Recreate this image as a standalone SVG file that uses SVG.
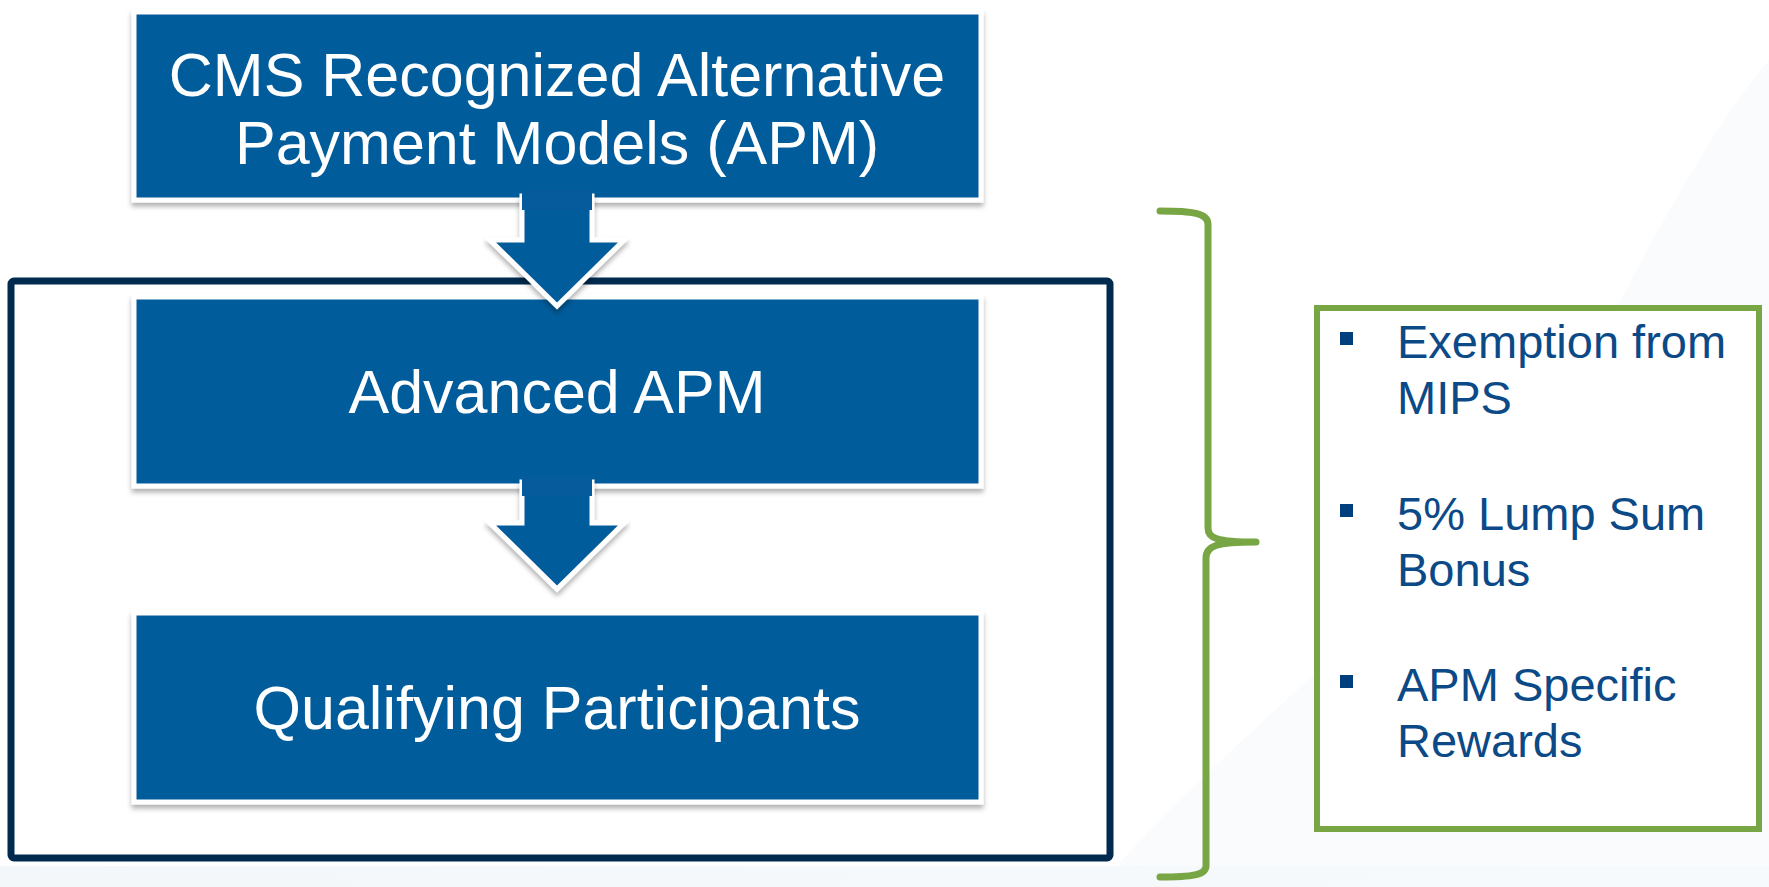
<svg xmlns="http://www.w3.org/2000/svg" width="1769" height="887" viewBox="0 0 1769 887">
<style>
.box{fill:#055b9b;stroke:#ffffff;stroke-width:5;filter:url(#sh)}
.arrow{fill:#055b9b;stroke:#ffffff;stroke-width:5;stroke-linejoin:miter;filter:url(#sh)}
.btxt{font-family:"Liberation Sans",Arial,sans-serif;font-size:61px;fill:#ffffff;text-anchor:middle}
.ltxt{font-family:"Liberation Sans",Arial,sans-serif;font-size:47px;fill:#0b4a87}
.bul{fill:#003f7e}
</style>
<defs>
<filter id="sh" x="-5%" y="-5%" width="110%" height="115%">
<feDropShadow dx="0" dy="4" stdDeviation="2.5" flood-color="#000000" flood-opacity="0.3"/>
</filter>
<linearGradient id="bg" x1="0" y1="0" x2="1" y2="0">
<stop offset="0" stop-color="#f4f7fa"/>
<stop offset="1" stop-color="#f7fafc"/>
</linearGradient>
</defs>
<rect x="0" y="0" width="1769" height="887" fill="#ffffff"/>
<path d="M1769,60 C1700,140 1620,300 1560,420 C1420,600 1200,760 1100,887 L1769,887 Z" fill="#f9fbfd"/>
<rect x="0" y="866" width="1769" height="21" fill="url(#bg)"/>

<g id="frame">
<rect x="11" y="281" width="1099" height="577" rx="3" fill="none" stroke="#002b4e" stroke-width="7"/>
</g>

<g id="node-cms">
<rect class="box" x="134" y="12" width="847" height="188"/>
<text class="btxt" x="557" y="96">CMS Recognized Alternative</text>
<text class="btxt" x="557" y="164">Payment Models (APM)</text>
</g>

<g id="node-advanced">
<rect class="box" x="134" y="297" width="847" height="189"/>
<text class="btxt" x="557" y="413">Advanced APM</text>
</g>

<g id="node-qp">
<rect class="box" x="134" y="613" width="847" height="189"/>
<text class="btxt" x="557" y="729">Qualifying Participants</text>
</g>

<g id="connectors">
<polygon class="arrow" points="522,196 592,196 592,240 624,240 557,306 490,240 522,240"/>
<rect x="522" y="190" width="70" height="20" fill="#055b9b"/>
<polygon class="arrow" points="522,482 592,482 592,523 624,523 557,589 490,523 522,523"/>
<rect x="522" y="476" width="70" height="20" fill="#055b9b"/>
</g>

<g id="brace">
<path d="M1160,211 C1192,211 1208,213 1208,224 L1208,528 C1208,538 1216,542 1256,542 C1216,542 1206,546 1206,558 L1206,866 C1206,875 1192,877 1160,877" fill="none" stroke="#78a644" stroke-width="7" stroke-linecap="round" stroke-linejoin="round"/>
</g>

<g id="node-benefits">
<rect x="1317" y="308" width="442" height="521" fill="#ffffff" stroke="#78a644" stroke-width="6"/>
<rect class="bul" x="1340" y="332" width="13" height="13"/>
<text class="ltxt" x="1397" y="358">Exemption from</text>
<text class="ltxt" x="1397" y="414">MIPS</text>
<rect class="bul" x="1340" y="504" width="13" height="13"/>
<text class="ltxt" x="1397" y="530">5% Lump Sum</text>
<text class="ltxt" x="1397" y="586">Bonus</text>
<rect class="bul" x="1340" y="675" width="13" height="13"/>
<text class="ltxt" x="1397" y="701">APM Specific</text>
<text class="ltxt" x="1397" y="757">Rewards</text>
</g>
</svg>
